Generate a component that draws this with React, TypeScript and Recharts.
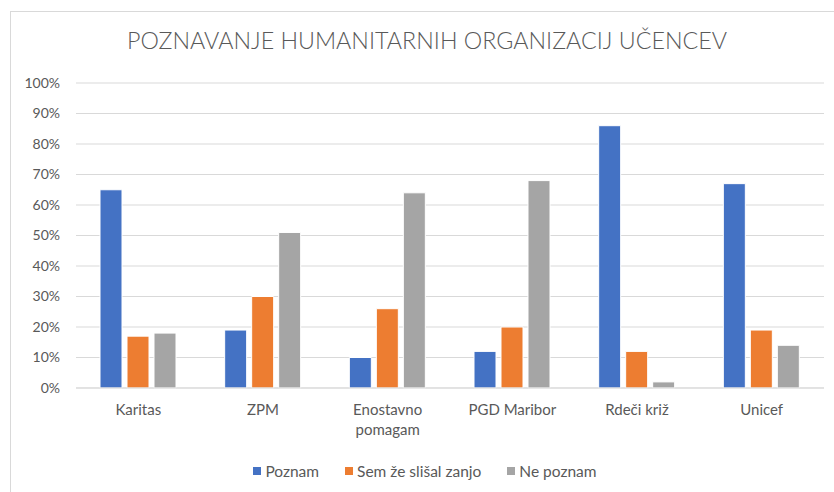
import React from "react";
import { BarChart, Bar, XAxis, YAxis, CartesianGrid, Legend, Text } from "recharts";

const categories = ["Karitas", "ZPM", "Enostavno pomagam", "PGD Maribor", "Rdeči križ", "Unicef"];
const poznam = [65, 19, 10, 12, 86, 67];
const slisal = [17, 30, 26, 20, 12, 19];
const nePoznam = [18, 51, 64, 68, 2, 14];
const yTicks = [0, 10, 20, 30, 40, 50, 60, 70, 80, 90, 100];
const seriesNames = ["Poznam", "Sem že slišal zanjo", "Ne poznam"];
const colors = ["#4472C4", "#ED7D31", "#A5A5A5"];
const title = "POZNAVANJE HUMANITARNIH ORGANIZACIJ UČENCEV";

const data = categories.map((c, i) => ({
  name: c,
  a: poznam[i],
  b: slisal[i],
  c: nePoznam[i],
}));

const FONT = "Lato, 'Open Sans', sans-serif";
const TXT = "#595959";

const XTick = (props: any) => {
  const { x, y, payload } = props;
  return (
    <Text
      x={x}
      y={y}
      width={95}
      textAnchor="middle"
      verticalAnchor="start"
      lineHeight={20}
      fill={TXT}
      fontSize={15}
      fontFamily={FONT}
    >
      {payload.value}
    </Text>
  );
};

const LegendContent = () => (
  <div
    style={{
      display: "flex",
      justifyContent: "center",
      fontFamily: FONT,
      fontSize: 15.5,
      color: TXT,
      gap: 26,
      paddingLeft: 16,
    }}
  >
    {seriesNames.map((n, i) => (
      <div key={n} style={{ display: "flex", alignItems: "center" }}>
        <span
          style={{
            display: "inline-block",
            width: 8,
            height: 8,
            background: colors[i],
            marginRight: 4,
          }}
        />
        <span>{n}</span>
      </div>
    ))}
  </div>
);

export default function App() {
  return (
    <div style={{ position: "absolute", left: 0, top: 0, width: 834, height: 492, background: "#fff", overflow: "hidden" }}>
      <div
        style={{
          position: "absolute",
          left: 10,
          top: 11,
          width: 840,
          height: 500,
          border: "1px solid #D9D9D9",
          boxSizing: "border-box",
        }}
      />
      <BarChart
        width={834}
        height={492}
        data={data}
        margin={{ top: 83, right: 10, bottom: 74, left: 0 }}
        barCategoryGap={24}
        barGap={5}
        style={{ position: "absolute", left: 0, top: 0 }}
      >
        <text
          x={427}
          y={49}
          textAnchor="middle"
          fontFamily={FONT}
          fontWeight={300}
          fontSize={24}
          fill={TXT}
          textLength={600}
          lengthAdjust="spacingAndGlyphs"
        >
          {title}
        </text>
        <CartesianGrid vertical={false} stroke="#D9D9D9" strokeWidth={1} />
        <XAxis
          dataKey="name"
          height={30}
          tick={<XTick />}
          tickLine={false}
          axisLine={{ stroke: "#D9D9D9" }}
          tickMargin={10}
          interval={0}
        />
        <YAxis
          width={76}
          domain={[0, 100]}
          ticks={yTicks}
          tickFormatter={(v: number) => `${v}%`}
          tickLine={false}
          axisLine={false}
          tickMargin={10}
          tick={{ fill: TXT, fontSize: 14, fontFamily: FONT }}
        />
        <Legend
          content={<LegendContent />}
          layout="horizontal"
          verticalAlign="middle"
          align="center"
          wrapperStyle={{ top: 462, left: 0, width: 834 }}
        />
        <Bar dataKey="a" name={seriesNames[0]} fill={colors[0]} stroke="#fff" strokeWidth={1} isAnimationActive={false} />
        <Bar dataKey="b" name={seriesNames[1]} fill={colors[1]} stroke="#fff" strokeWidth={1} isAnimationActive={false} />
        <Bar dataKey="c" name={seriesNames[2]} fill={colors[2]} stroke="#fff" strokeWidth={1} isAnimationActive={false} />
      </BarChart>
    </div>
  );
}
